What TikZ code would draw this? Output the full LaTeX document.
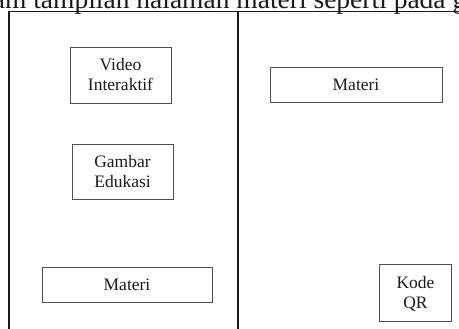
\documentclass[tikz,border=0pt]{standalone}
\usepackage{fontspec}
\setmainfont{Liberation Serif}
\usetikzlibrary{positioning}
\definecolor{pgInk}{HTML}{1A1A1A}
\definecolor{pgLine}{HTML}{505050}

\begin{document}
\begin{tikzpicture}[x=1pt, y=-1pt,
  frame/.style={draw=pgInk, line width=1.4pt},
  item/.style={draw=pgLine, line width=0.9pt, align=center, inner sep=0pt,
               text=pgInk, font=\fontsize{17.5}{20}\selectfont},
  body/.style={text=pgInk, font=\fontsize{27.5}{32}\selectfont, anchor=base west, inner sep=0pt},
]
\useasboundingbox (0,0) rectangle (459,329);
\clip (0,0) rectangle (459,329);

\def\TOP{11.5}  % top edge of the page frame
\def\MID{238}   % divider between the two halves

% body text above, cut off at the top
\node[body] (line) at (-41,8.5) {dalam tampilan halaman materi seperti pada gambar};

% page frame, runs on past the right and bottom edge
\coordinate (fbl) at (9,340);
\coordinate (ftl) at (9,\TOP);
\coordinate (ftr) at (470,\TOP);
\coordinate (dtop) at (\MID,\TOP);
\coordinate (dbot) at (\MID,340);
\draw[frame] (fbl) -- (ftl) -- (ftr);
\draw[frame] (dtop) -- (dbot);

% left half
\node[item, minimum width=101pt, minimum height=56pt] (video)  at (120.5,75)  {Video\\Interaktif};
\node[item, minimum width=101pt, minimum height=55pt] (gambar) at (122.5,171.5) {Gambar\\Edukasi};
\node[item, minimum width=170pt, minimum height=35pt] (materiL) at (127,284.5) {Materi};

% right half
\node[item, minimum width=172pt, minimum height=35pt] (materiR) at (356,85) {Materi};
\node[item, minimum width=72pt, minimum height=57pt] (kode) at (415.5,293.4) {Kode\\QR};

\end{tikzpicture}
\end{document}
